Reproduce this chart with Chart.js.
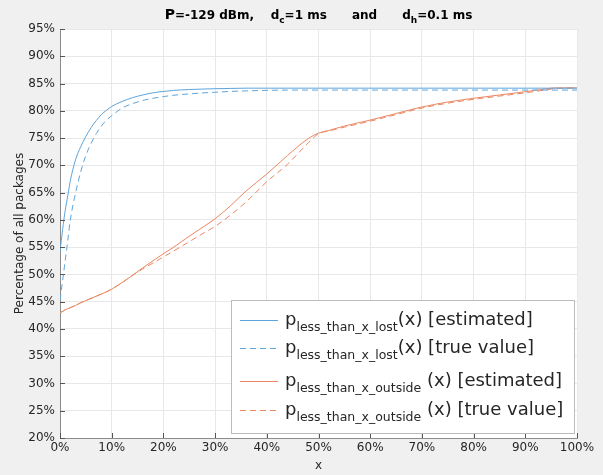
<!DOCTYPE html>
<html>
<head>
<meta charset="utf-8">
<script src="https://cdn.jsdelivr.net/npm/chart.js@4.4.1/dist/chart.umd.min.js"></script>
<style>
    html, body { margin: 0; padding: 0; background: #f0f0f0; }
    canvas { display: block; }
</style>
</head>
<body>
<canvas id="lossChart" width="603" height="475"></canvas>
<script>
// x positions (percent) shared by all four curves
const xValues = [0, 0.5, 1, 1.5, 2, 3, 4, 5, 6, 7, 8, 9, 10, 12, 14, 16, 18, 20, 22, 25,
    28, 30, 33, 36, 40, 44, 48, 50, 52, 55, 60, 65, 70, 75, 80, 85, 90, 93, 96, 100];

// p_less_than_x_lost
const lostEstimated = [54.1, 58.2, 61.7, 64.4, 67.2, 71.0, 73.4, 75.3, 76.9, 78.2, 79.3, 80.1, 80.8, 81.7, 82.4, 82.9, 83.3, 83.55, 83.75, 83.9,
    84.0, 84.05, 84.1, 84.15, 84.15, 84.15, 84.15, 84.15, 84.15, 84.15, 84.15, 84.15, 84.15, 84.15, 84.15, 84.15, 84.15, 84.15, 84.15, 84.15];
const lostTrue = [45.3, 48.8, 52.5, 56.2, 60.0, 64.9, 68.8, 71.8, 74.0, 75.8, 77.2, 78.3, 79.1, 80.5, 81.3, 81.9, 82.3, 82.6, 82.85, 83.1,
    83.3, 83.4, 83.55, 83.65, 83.75, 83.8, 83.8, 83.8, 83.8, 83.8, 83.8, 83.8, 83.8, 83.8, 83.8, 83.8, 83.8, 83.8, 83.8, 83.8];

// p_less_than_x_outside
const outsideEstimated = [43.0, 43.2, 43.5, 43.7, 43.9, 44.3, 44.8, 45.2, 45.6, 46.0, 46.4, 46.8, 47.3, 48.5, 49.8, 51.2, 52.5, 53.8, 55.0, 57.0,
    58.9, 60.2, 62.6, 65.3, 68.4, 71.8, 74.9, 75.9, 76.4, 77.2, 78.3, 79.5, 80.7, 81.6, 82.3, 82.9, 83.5, 83.9, 84.2, 84.2];
const outsideTrue = [43.0, 43.2, 43.5, 43.7, 43.9, 44.3, 44.8, 45.2, 45.6, 46.0, 46.4, 46.8, 47.3, 48.5, 49.8, 51.0, 52.1, 53.2, 54.3, 56.0,
    57.7, 58.8, 60.9, 63.3, 67.0, 70.2, 74.1, 75.8, 76.3, 77.0, 78.1, 79.3, 80.5, 81.4, 82.1, 82.7, 83.3, 83.7, 84.1, 84.2];

// axis ranges / ticks
const xMin = 0, xMax = 100, xStep = 10;
const yMin = 20, yMax = 95, yStep = 5;

const BLUE = '#5ea5dc';
const ORANGE = '#eb8762';
const TEXT = '#262626';
const FONT = "'DejaVu Sans', sans-serif";

function toPoints(values) {
    return xValues.map((x, i) => ({ x: x, y: values[i] }));
}

const seriesInfo = [
    { sub: 'less_than_x_lost', rest: '(x) [estimated]', color: BLUE, dash: [], data: lostEstimated },
    { sub: 'less_than_x_lost', rest: '(x) [true value]', color: BLUE, dash: [6, 4], data: lostTrue },
    { sub: 'less_than_x_outside', rest: ' (x) [estimated]', color: ORANGE, dash: [], data: outsideEstimated },
    { sub: 'less_than_x_outside', rest: ' (x) [true value]', color: ORANGE, dash: [6, 4], data: outsideTrue }
];

// white plot area on the grey figure
const plotBackground = {
    id: 'plotBackground',
    beforeDraw(chart) {
        const { ctx, chartArea: a } = chart;
        ctx.save();
        ctx.fillStyle = '#ffffff';
        ctx.fillRect(a.left, a.top, a.right - a.left, a.bottom - a.top);
        ctx.restore();
    }
};

// matlab style inner tick marks
const innerTicks = {
    id: 'innerTicks',
    afterDatasetsDraw(chart) {
        const { ctx, chartArea: a, scales } = chart;
        ctx.save();
        ctx.strokeStyle = '#555555';
        ctx.lineWidth = 1;
        ctx.beginPath();
        scales.x.ticks.forEach(t => {
            const px = Math.round(scales.x.getPixelForValue(t.value)) + 0.5;
            ctx.moveTo(px, a.bottom);
            ctx.lineTo(px, a.bottom - 5);
        });
        scales.y.ticks.forEach(t => {
            const py = Math.round(scales.y.getPixelForValue(t.value)) + 0.5;
            ctx.moveTo(a.left, py);
            ctx.lineTo(a.left + 5, py);
        });
        ctx.stroke();
        ctx.restore();
    }
};

// title with subscripts
const subTitle = {
    id: 'subTitle',
    afterDraw(chart) {
        const { ctx, chartArea: a } = chart;
        const big = 'bold 14px ' + FONT;
        const norm = 'bold 12px ' + FONT;
        const small = 'bold 9px ' + FONT;
        const parts = [
            { t: 'P', f: big, dy: 0 },
            { t: '=-129 dBm,    d', f: norm, dy: 0 },
            { t: 'c', f: small, dy: 4 },
            { t: '=1 ms      and      d', f: norm, dy: 0 },
            { t: 'h', f: small, dy: 4 },
            { t: '=0.1 ms', f: norm, dy: 0 }
        ];
        ctx.save();
        let total = 0;
        parts.forEach(p => { ctx.font = p.f; p.w = ctx.measureText(p.t).width; total += p.w; });
        let x = (a.left + a.right) / 2 - total / 2;
        const baseY = 19;
        ctx.fillStyle = '#000000';
        ctx.textBaseline = 'alphabetic';
        parts.forEach(p => {
            ctx.font = p.f;
            ctx.fillText(p.t, x, baseY + p.dy);
            x += p.w;
        });
        ctx.restore();
    }
};

// legend box with subscripted labels
const subLegend = {
    id: 'subLegend',
    afterDraw(chart) {
        const { ctx, chartArea: a } = chart;
        const boxW = 343, boxH = 133;
        const left = a.right - 3 - boxW;
        const top = a.bottom - 5 - boxH;
        const rowOffsets = [20, 48, 81, 110];
        ctx.save();
        ctx.fillStyle = '#ffffff';
        ctx.fillRect(left, top, boxW, boxH);
        ctx.strokeStyle = '#bcbcbc';
        ctx.lineWidth = 1;
        ctx.strokeRect(left + 0.5, top + 0.5, boxW, boxH);
        seriesInfo.forEach((s, i) => {
            const y = top + rowOffsets[i];
            ctx.strokeStyle = s.color;
            ctx.setLineDash(s.dash);
            ctx.beginPath();
            ctx.moveTo(left + 9, y + 0.5);
            ctx.lineTo(left + 47, y + 0.5);
            ctx.stroke();
            ctx.setLineDash([]);

            let x = left + 54;
            ctx.fillStyle = TEXT;
            ctx.textBaseline = 'alphabetic';
            ctx.font = '18px ' + FONT;
            ctx.fillText('p', x, y + 5);
            x += ctx.measureText('p').width;
            ctx.font = '12.5px ' + FONT;
            ctx.fillText(s.sub, x, y + 11);
            x += ctx.measureText(s.sub).width;
            ctx.font = '18px ' + FONT;
            ctx.fillText(s.rest, x, y + 5);
        });
        ctx.restore();
    }
};

const datasets = seriesInfo.map(s => ({
    data: toPoints(s.data),
    borderColor: s.color,
    borderWidth: 1,
    borderDash: s.dash,
    pointRadius: 0,
    fill: false,
    cubicInterpolationMode: 'monotone'
}));

new Chart(document.getElementById('lossChart'), {
    type: 'line',
    data: { datasets: datasets },
    options: {
        responsive: false,
        animation: false,
        devicePixelRatio: 1,
        layout: { padding: { top: 29, right: 26, left: 0, bottom: 0 } },
        plugins: {
            legend: { display: false },
            tooltip: { enabled: false }
        },
        scales: {
            x: {
                type: 'linear',
                min: xMin,
                max: xMax,
                afterFit(scale) { scale.height = 37; },
                ticks: {
                    stepSize: xStep,
                    padding: 3,
                    color: TEXT,
                    font: { family: FONT, size: 12 },
                    maxRotation: 0,
                    callback: v => v + '%'
                },
                grid: { color: '#e8e8e8', drawTicks: false },
                border: { color: '#8c8c8c' },
                title: {
                    display: true,
                    text: 'x',
                    color: TEXT,
                    font: { family: FONT, size: 12 },
                    padding: { top: 0, bottom: 2 }
                }
            },
            y: {
                min: yMin,
                max: yMax,
                afterFit(scale) { scale.width = 60; },
                ticks: {
                    stepSize: yStep,
                    padding: 5,
                    color: TEXT,
                    font: { family: FONT, size: 12 },
                    callback: v => v + '%'
                },
                grid: { color: '#e8e8e8', drawTicks: false },
                border: { color: '#8c8c8c' },
                title: {
                    display: true,
                    text: 'Percentage of all packages',
                    color: TEXT,
                    font: { family: FONT, size: 12 },
                    padding: { top: 13, bottom: 0 }
                }
            }
        }
    },
    plugins: [plotBackground, innerTicks, subTitle, subLegend]
});
</script>
</body>
</html>
